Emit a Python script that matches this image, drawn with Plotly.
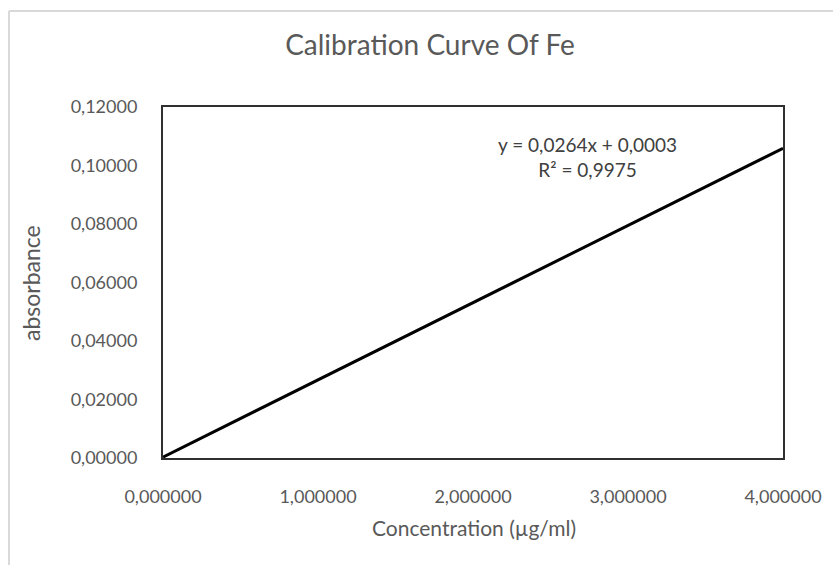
import plotly.graph_objects as go

concentration = [0.0, 4.0]
absorbance = [0.0003, 0.1059]
x_ticks = [0, 1, 2, 3, 4]
y_ticks = [0, 0.02, 0.04, 0.06, 0.08, 0.10, 0.12]
equation_text = "y = 0,0264x + 0,0003<br>R² = 0,9975"

W, H = 833, 565
L, R, T, B = 163, 783, 107, 458

FONT = "Lato, sans-serif"
GRAY = "#595959"

def px_x(p):
    return (p - L) / (R - L)

def px_y(p):
    return (B - p) / (B - T)

fig = go.Figure()
fig.add_trace(go.Scatter(x=concentration, y=absorbance, mode="lines",
                         line=dict(color="black", width=3), showlegend=False,
                         hoverinfo="skip"))

fig.update_layout(
    width=W, height=H,
    margin=dict(l=L, r=W - R, t=T, b=H - B),
    paper_bgcolor="white", plot_bgcolor="white",
    separators=",.",
    font=dict(family=FONT, color=GRAY, size=18),
    title=dict(text="Calibration Curve Of Fe", x=px_x(430), xref="paper",
               xanchor="center", y=1 - 45 / H, yref="container", yanchor="middle",
               font=dict(size=28, color=GRAY, family=FONT)),
    xaxis=dict(range=[0, 4], tickvals=x_ticks, tickformat=".6f",
               showgrid=False, zeroline=False, showline=True, mirror=True,
               linecolor="#303030", linewidth=2, ticks="",
               ticklabelstandoff=21, tickfont=dict(size=18, color=GRAY)),
    yaxis=dict(range=[0, 0.12], tickvals=y_ticks, tickformat=".5f",
               showgrid=False, zeroline=False, showline=True, mirror=True,
               linecolor="#303030", linewidth=2, ticks="",
               ticklabelstandoff=20, tickfont=dict(size=18, color=GRAY)),
    annotations=[
        dict(text=equation_text, x=px_x(587), y=px_y(157),
             xref="paper", yref="paper", showarrow=False,
             xanchor="center", yanchor="middle", align="center",
             font=dict(size=19, color="#404040")),
        dict(text="Concentration (µg/ml)", x=px_x(474), y=px_y(527),
             xref="paper", yref="paper", showarrow=False,
             xanchor="center", yanchor="middle",
             font=dict(size=21, color=GRAY)),
        dict(text="absorbance", x=px_x(31), y=px_y(283), textangle=-90,
             xref="paper", yref="paper", showarrow=False,
             xanchor="center", yanchor="middle",
             font=dict(size=23, color=GRAY)),
    ],
    shapes=[
        dict(type="line", xref="paper", yref="paper",
             x0=px_x(9), x1=px_x(9), y0=px_y(H + 5), y1=px_y(11),
             line=dict(color="#d9d9d9", width=2)),
        dict(type="line", xref="paper", yref="paper",
             x0=px_x(9), x1=px_x(W + 5), y0=px_y(11), y1=px_y(11),
             line=dict(color="#d9d9d9", width=2)),
    ],
)

fig.write_html("out.html", config={"displayModeBar": False},
               post_script="document.body.style.margin='0';document.body.style.overflow='hidden';")
